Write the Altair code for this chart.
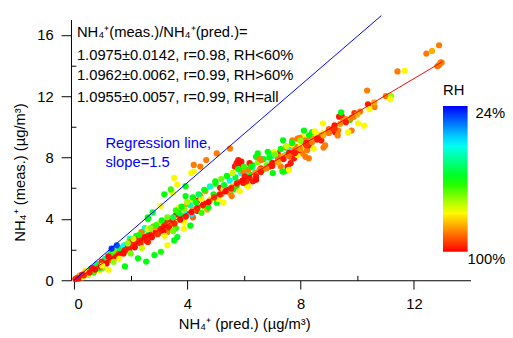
import altair as alt
import pandas as pd

# ---- scatter data: NH4+ predicted (x), measured (y), RH (%) ----
x_pred = [
    0.05, 0.12, 0.2, 0.25, 0.3, 0.35, 0.4, 0.45, 0.5, 0.55,
    0.6, 0.65, 0.7, 0.75, 0.8, 0.85, 0.9, 0.95, 1.0, 1.05,
    1.1, 1.15, 1.2, 1.25, 1.3, 1.35, 1.4, 1.45, 1.5, 1.55,
    1.6, 1.65, 1.7, 1.75, 0.3, 0.5, 0.7, 0.9, 1.0, 0.6,
    0.8, 1.1, 1.2, 0.4, 0.2, 1.3, 1.4, 1.6, 1.33, 1.51,
    1.97, 2.14, 0.29, 0.64, 0.98, 1.22, 1.57, 0.87, 1.22, 1.8,
    1.8, 2.14, 1.8, 1.75,
    1.8, 1.9, 2.0, 2.1, 2.2, 2.3, 2.4, 2.5, 2.6, 2.7,
    2.8, 2.9, 3.0, 2.0, 2.2, 2.4, 2.6, 2.8, 3.0, 2.5,
    2.26, 2.55, 2.84, 3.07, 3.3, 3.54, 3.65, 3.88, 4.11, 2.32,
    2.49, 2.61, 2.96, 3.3, 1.91, 2.03, 2.26, 2.38, 2.72, 2.61,
    2.84, 3.3, 3.07, 3.19, 3.25, 3.42, 3.59,
    2.61, 2.61, 2.78, 3.07, 3.19, 3.48, 3.42, 3.65, 3.94, 4.14,
    4.23, 4.46, 4.67, 5.04, 5.51, 3.54, 4.23,
    3.71, 3.88, 4.0, 3.94, 4.17, 4.35, 4.46, 4.64, 4.93, 4.81,
    4.99, 5.16, 5.28, 4.35, 4.58, 4.81, 5.04, 5.28, 5.51, 5.74,
    3.4, 3.6, 3.8, 4.0, 4.2, 4.4, 4.6, 4.8, 3.5, 3.7,
    3.9, 4.1, 4.3, 4.5, 3.6, 3.9, 4.2, 4.5, 4.7, 3.95,
    4.15, 4.75, 5.04, 5.28,
    5.2, 5.4, 5.6, 5.8, 6.0, 6.2, 6.4, 6.6, 6.8, 5.3,
    5.5, 5.7, 6.0, 6.3, 6.5, 6.7, 5.1, 5.5, 6.1, 5.9,
    6.1, 6.3, 5.62, 5.57, 5.85, 6.03, 6.15, 5.74, 5.91, 5.97,
    6.2, 6.32, 6.43, 6.67, 5.8, 5.85, 6.2, 6.15, 5.68, 5.97,
    6.03, 6.43, 5.97, 6.09, 6.43, 6.61, 6.55, 6.26, 6.9, 7.19,
    6.55, 6.49,
    6.84, 7.02, 7.19, 7.36, 7.59, 7.83, 8.06, 8.23, 8.29, 7.89,
    8.06, 8.41, 7.3, 7.42, 7.02, 7.07, 7.25, 7.48, 7.65, 7.77,
    7.89, 8.17, 7.36, 7.54, 7.65, 7.59, 7.38, 7.71, 7.68, 7.48,
    7.89, 7.94, 8.35, 8.17, 7.97, 8.06, 8.29, 7.6, 7.0, 7.0,
    7.2, 7.4, 7.6, 7.8, 8.0, 8.2,
    8.4, 8.6, 8.8, 9.0, 9.2, 8.12, 8.41, 8.58, 8.75, 8.64,
    8.58, 8.73, 8.87, 8.81, 8.46, 9.16, 9.22, 8.99, 9.33, 9.31,
    8.79, 9.45, 9.36, 9.51, 9.74, 9.88, 9.43, 10.03, 10.24, 9.8,
    9.68, 9.6, 9.9,
    10.1, 10.38, 10.61, 10.43, 10.35, 11.01, 11.19, 11.17, 10.6, 11.42,
    11.68, 12.44, 12.64, 12.89, 12.83, 12.98, 12.89, 12.95,
]
y_meas = [
    0.08, 0.15, 0.22, 0.3, 0.3, 0.4, 0.45, 0.48, 0.55, 0.62,
    0.6, 0.72, 0.75, 0.85, 0.82, 0.95, 1.0, 1.05, 1.08, 1.2,
    1.15, 1.3, 1.35, 1.4, 1.45, 1.5, 1.55, 1.6, 1.7, 1.75,
    1.8, 1.85, 1.95, 2.0, 0.2, 0.35, 0.5, 0.65, 0.8, 0.75,
    1.05, 1.4, 1.6, 0.6, 0.3, 1.75, 1.9, 2.1, 2.07, 2.28,
    2.71, 2.6, 0.36, 0.79, 1.22, 1.54, 1.64, 0.79, 0.68, 0.9,
    2.18, 2.5, 2.3, 2.25,
    1.96, 2.1, 2.2, 2.35, 2.45, 2.55, 2.7, 2.8, 2.9, 3.0,
    3.1, 3.2, 3.3, 2.6, 2.9, 3.1, 3.3, 3.5, 3.7, 3.4,
    1.43, 1.22, 1.64, 1.86, 2.28, 2.6, 2.82, 3.35, 3.56, 2.6,
    2.82, 2.5, 3.03, 3.78, 2.28, 2.5, 2.71, 3.14, 2.92, 3.35,
    3.46, 3.14, 3.35, 3.56, 3.78, 3.99, 4.21,
    3.99, 4.1, 4.42, 4.85, 5.6, 5.7, 5.92, 6.24, 6.13, 6.99,
    7.09, 7.41, 7.84, 8.27, 8.59, 6.67, 7.52,
    4.74, 4.63, 4.96, 5.49, 5.28, 5.17, 5.49, 5.81, 5.6, 6.13,
    6.45, 6.03, 5.81, 4.53, 4.85, 5.28, 5.49, 5.92, 5.7, 6.13,
    3.6, 3.9, 4.2, 4.3, 4.6, 4.8, 5.0, 5.2, 4.1, 4.4,
    4.6, 4.9, 5.1, 5.3, 3.4, 3.8, 4.1, 4.4, 4.6, 4.25,
    4.3, 4.74, 5.06, 5.06,
    5.6, 5.9, 6.1, 6.4, 6.6, 6.9, 7.0, 7.3, 7.5, 6.2,
    6.5, 6.7, 7.0, 7.5, 7.7, 7.9, 5.3, 5.7, 6.2, 7.0,
    7.1, 7.35, 5.92, 5.49, 5.81, 6.35, 6.13, 7.63, 7.73, 7.41,
    6.67, 6.45, 6.77, 7.2, 7.84, 7.63, 7.63, 7.2, 7.41, 7.09,
    6.77, 6.56, 6.35, 6.45, 8.05, 7.84, 7.2, 7.41, 7.41, 7.73,
    7.95, 8.27,
    8.37, 8.27, 8.27, 8.05, 8.37, 8.16, 8.27, 8.48, 7.95, 9.23,
    9.33, 9.12, 7.41, 7.09, 6.99, 8.37, 8.05, 8.16, 8.05, 7.95,
    8.16, 8.05, 7.09, 7.41, 7.63, 7.2, 9.12, 9.12, 8.8, 8.65,
    8.69, 8.48, 9.23, 9.12, 9.29, 8.91, 8.8, 8.5, 8.1, 7.65,
    7.9, 8.1, 8.3, 8.5, 8.75, 8.95,
    9.25, 9.4, 9.6, 9.85, 10.1, 9.76, 9.65, 9.55, 9.44, 9.23,
    9.17, 9.12, 8.8, 8.65, 8.59, 9.87, 9.65, 9.65, 9.76, 9.44,
    10.23, 10.72, 10.66, 10.4, 10.45, 10.66, 10.94, 10.23, 10.08, 9.76,
    9.65, 10.5, 10.9,
    11.0, 11.47, 11.3, 11.15, 12.37, 12.0, 12.0, 11.8, 11.6, 13.61,
    13.65, 14.78, 14.95, 15.32, 13.95, 14.19, 14.04, 14.2,
]
rh = [
    98, 95, 98, 90, 98, 96, 99, 90, 97, 99,
    86, 98, 96, 99, 92, 98, 97, 99, 95, 98,
    88, 99, 97, 96, 99, 92, 98, 99, 96, 98,
    90, 99, 97, 98, 80, 75, 66, 80, 70, 62,
    58, 52, 46, 82, 88, 62, 68, 58, 28, 30,
    45, 62, 98, 98, 97, 99, 98, 62, 80, 62,
    88, 80, 50, 45,
    98, 96, 99, 90, 98, 97, 88, 99, 95, 98,
    86, 99, 93, 66, 60, 70, 56, 62, 75, 48,
    62, 62, 62, 64, 80, 62, 60, 80, 62, 98,
    99, 97, 98, 98, 99, 97, 98, 90, 99, 80,
    88, 90, 98, 99, 97, 98, 99,
    62, 62, 60, 80, 62, 78, 66, 80, 62, 80,
    80, 90, 90, 90, 90, 80, 90,
    80, 90, 88, 62, 80, 98, 90, 88, 62, 80,
    62, 98, 99, 98, 62, 80, 62, 80, 62, 62,
    90, 80, 62, 97, 88, 70, 98, 86, 56, 60,
    72, 50, 62, 78, 66, 80, 92, 66, 86, 45,
    42, 62, 62, 80,
    90, 98, 86, 92, 80, 62, 88, 96, 70, 60,
    46, 58, 50, 62, 72, 60, 80, 88, 76, 45,
    44, 46, 62, 90, 80, 62, 80, 98, 98, 98,
    98, 98, 98, 62, 98, 99, 98, 90, 98, 90,
    98, 99, 98, 97, 62, 90, 90, 62, 98, 98,
    90, 62,
    62, 62, 98, 98, 90, 62, 90, 90, 90, 90,
    80, 98, 90, 62, 62, 80, 90, 62, 90, 98,
    80, 90, 62, 98, 98, 80, 62, 90, 80, 90,
    90, 98, 90, 90, 90, 98, 98, 45, 46, 98,
    92, 86, 98, 90, 80, 98,
    88, 96, 78, 92, 98, 62, 62, 80, 90, 98,
    98, 98, 90, 90, 80, 98, 98, 98, 90, 90,
    80, 98, 98, 90, 62, 90, 62, 80, 80, 90,
    80, 88, 96,
    90, 98, 90, 80, 90, 90, 72, 80, 86, 90,
    80, 90, 86, 90, 90, 90, 90, 90,
]

# more points filling the dense band
x_more = [
    0.15, 0.35, 0.55, 0.75, 0.95, 1.15, 1.35, 1.55, 1.75, 1.95,
    2.15, 2.35, 2.55, 2.75, 2.95, 3.15, 3.35, 3.55, 3.75, 3.95,
    4.15, 4.35, 4.55, 4.75, 4.95, 5.15, 5.35, 5.55, 5.75, 5.95,
    1.9, 2.1, 2.3, 2.7, 2.9, 3.1, 3.3, 3.6, 3.8, 4.0,
    4.2, 4.4, 4.6, 4.8, 5.0, 5.2, 5.4, 5.6, 5.8, 6.0,
    6.6, 6.8, 7.0, 7.2, 7.4, 7.6, 7.8, 8.0, 8.2, 8.4,
    8.6, 8.8, 9.0, 9.2, 9.4, 9.6, 9.8, 10.0,
    6.9, 7.1, 7.3, 7.5, 7.7, 8.0, 8.3, 8.5,
    1.0, 1.4, 1.6, 2.0, 2.4, 3.2, 3.5,
]
y_more = [
    0.12, 0.32, 0.5, 0.7, 0.9, 1.1, 1.3, 1.5, 1.75, 1.95,
    2.15, 2.4, 2.6, 2.8, 3.0, 3.2, 3.45, 3.7, 3.95, 4.15,
    4.45, 4.7, 4.9, 5.1, 5.4, 5.6, 5.8, 6.0, 6.3, 6.5,
    2.4, 2.7, 2.95, 3.4, 3.6, 3.9, 4.1, 4.55, 4.8, 5.1,
    5.4, 5.6, 5.9, 6.1, 6.3, 6.6, 6.8, 7.0, 7.25, 7.4,
    7.05, 7.3, 7.45, 7.7, 7.9, 8.1, 8.3, 8.55, 8.8, 9.0,
    9.25, 9.45, 9.6, 9.9, 10.2, 10.3, 10.6, 10.8,
    8.0, 8.2, 8.55, 8.75, 8.95, 9.1, 9.45, 9.7,
    0.95, 1.2, 1.4, 1.75, 2.1, 2.9, 3.2,
]
rh_more = [
    99, 97, 98, 99, 98, 99, 97, 98, 99, 98,
    99, 97, 98, 99, 96, 99, 98, 97, 99, 98,
    99, 97, 98, 99, 96, 98, 99, 97, 98, 99,
    72, 76, 64, 72, 66, 62, 70, 66, 62, 74,
    62, 56, 62, 48, 62, 70, 62, 76, 62, 66,
    98, 90, 98, 86, 98, 92, 98, 88, 96, 90,
    98, 86, 90, 96, 88, 98, 90, 86,
    62, 70, 62, 76, 62, 72, 62, 80,
    80, 72, 80, 70, 76, 80, 70,
]

# ---- fitted / reference lines ----
fit_x = [0.0, 13.0]
fit_y = [0.0, 14.24]
reg_x = [0.0, 10.85]
reg_y = [0.0, 17.25]

# ---- colour scale for RH (legend shows 24% on top) ----
rh_stops = [24, 43.8, 62.8, 79.5, 100]
rh_colors = ["#0000ff", "#00ffff", "#00ff00", "#ffff00", "#ff0000"]
rh_top_label = [24]

# ---- ticks ----
x_major = [0, 4, 8, 12]
x_minor = [2, 6, 10]
y_major = [0, 4, 8, 12, 16]
y_minor = [2, 6, 10, 14]

ann_lines = [
    "NH₄⁺(meas.)/NH₄⁺(pred.)=",
    "1.0975±0.0142, r=0.98, RH<60%",
    "1.0962±0.0062, r=0.99, RH>60%",
    "1.0955±0.0057, r=0.99, RH=all",
]
reg_lines = ["Regression line,", "slope=1.5"]

FONT = "Liberation Sans"

pts = pd.DataFrame({"x": x_pred + x_more, "y": y_meas + y_more, "RH": rh + rh_more})
xs = alt.Scale(domain=[0, 14], nice=False, zero=False)
ys = alt.Scale(domain=[0, 17], nice=False, zero=False)

neg_stops = [-v for v in rh_stops][::-1]
neg_colors = rh_colors[::-1]

points = alt.Chart(pts).transform_calculate(
    negRH="-datum.RH"
).mark_circle(size=40, opacity=1).encode(
    x=alt.X("x:Q", scale=xs, axis=alt.Axis(
        values=x_major, title="NH₄⁺ (pred.) (µg/m³)", titleX=173, titleY=44,
        titleBaseline="middle", titleAlign="center", tickSize=9, labelPadding=8,
        grid=False)),
    y=alt.Y("y:Q", scale=ys, axis=alt.Axis(
        values=y_major, title="NH₄⁺ (meas.) (µg/m³)", offset=3, titleX=-52,
        titleY=155, titleBaseline="middle", titleAlign="center", tickSize=10,
        labelPadding=8, grid=False)),
    color=alt.Color("negRH:Q", scale=alt.Scale(domain=neg_stops, range=neg_colors,
                                               interpolate="rgb"),
                    legend=alt.Legend(
                        orient="none", legendX=375, legendY=65, direction="vertical",
                        title="RH", titleFontSize=15, titleFont=FONT,
                        titleFontWeight="normal", titleColor="black", titlePadding=8,
                        gradientLength=148, gradientThickness=25,
                        gradientStrokeWidth=0, values=[-v for v in rh_top_label],
                        labelExpr="(-datum.value) + '%'", labelFontSize=15,
                        labelFont=FONT, labelColor="black", labelOffset=8,
                        padding=0)),
)

fit = alt.Chart(pd.DataFrame({"x": fit_x, "y": fit_y})).mark_line(
    color="#ff0000", strokeWidth=1).encode(
    x=alt.X("x:Q", scale=xs, axis=alt.Axis(
        values=x_minor, orient="bottom", offset=-5, tickSize=5, labels=False,
        domain=False, title=None, grid=False)),
    y=alt.Y("y:Q", scale=ys, axis=alt.Axis(
        values=y_minor, orient="left", offset=-2, tickSize=5, labels=False,
        domain=False, title=None, grid=False)),
)

reg = alt.Chart(pd.DataFrame({"x": reg_x, "y": reg_y})).mark_line(
    color="#0000ff", strokeWidth=1, clip=False).encode(
    x=alt.X("x:Q", scale=xs, axis=None),
    y=alt.Y("y:Q", scale=ys, axis=None),
)


def label(txt, px, py, color="black"):
    return alt.Chart(pd.DataFrame({"t": [txt]})).mark_text(
        align="left", baseline="middle", font=FONT, fontSize=15, color=color
    ).encode(x=alt.value(px), y=alt.value(py), text="t:N")


texts = [label(t, 3, yy) for t, yy in zip(ann_lines, [13, 36, 57, 79])]
texts += [label(t, 32, yy, "#0000ff") for t, yy in zip(reg_lines, [126, 145])]
texts += [label(f"{max(rh_stops)}%", 400, 243)]

chart = alt.layer(points, fit, reg, *texts).resolve_axis(
    x="independent", y="independent"
).properties(
    width=403, height=265, background="white",
    autosize=alt.AutoSizeParams(type="none"),
    padding={"left": 67, "top": 9, "right": 35, "bottom": 56},
).configure_view(stroke=None).configure_axis(
    labelFont=FONT, labelFontSize=15, labelColor="black",
    titleFont=FONT, titleFontSize=15, titleFontWeight="normal", titleColor="black",
    domainColor="black", tickColor="black", domainWidth=1, tickWidth=1,
)

chart.save("out.html", embed_options={"renderer": "svg", "actions": False})
